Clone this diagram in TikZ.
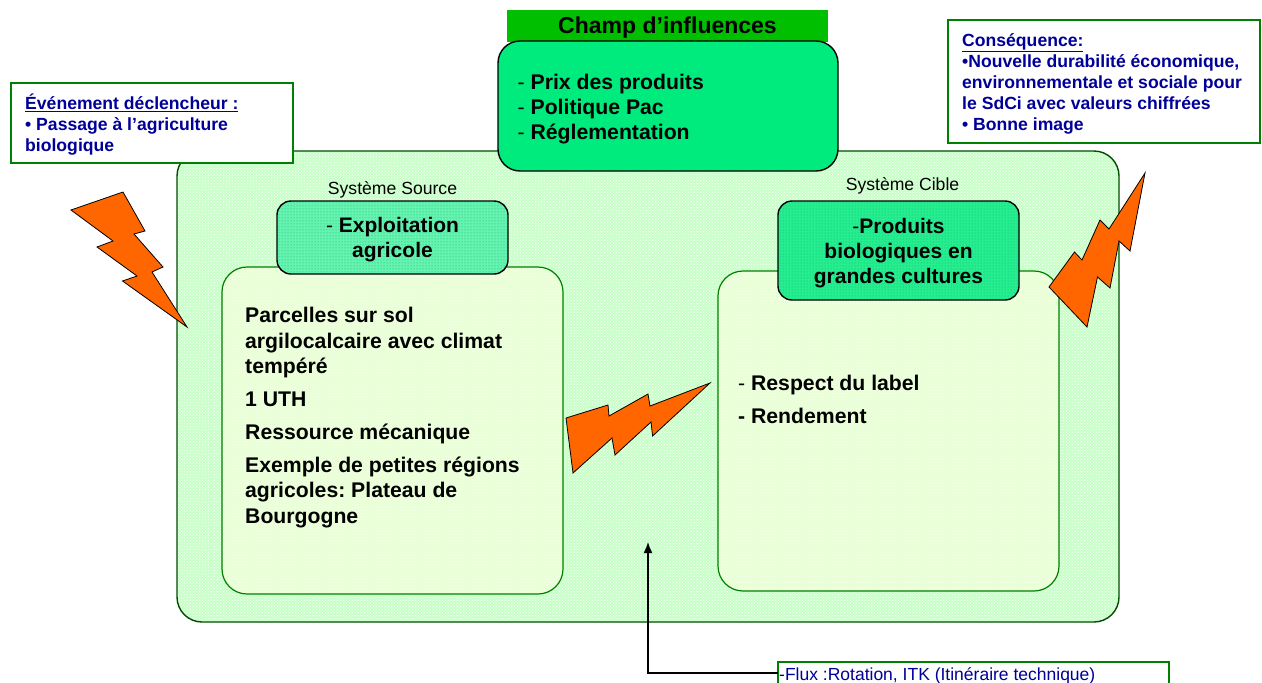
\documentclass[tikz,border=0pt]{standalone}
\usepackage{fontspec}
\setmainfont{Liberation Sans}
\usepackage{xcolor}
\usetikzlibrary{patterns,arrows.meta}
\frenchspacing
\definecolor{boxline}{RGB}{0,128,0}
\definecolor{textblue}{RGB}{0,0,153}
\definecolor{outerfill}{RGB}{200,255,200}
\definecolor{innerfill}{RGB}{233,255,214}
\definecolor{headfill}{RGB}{0,235,125}
\definecolor{titlefill}{RGB}{0,191,0}
\definecolor{boltfill}{RGB}{255,102,0}
\tikzset{
  panel/.style={draw, outer sep=0pt, inner sep=0pt},
  infobox/.style={panel, draw=boxline, line width=2.5pt, fill=white},
  outerpanel/.style={panel, draw=black!40!boxline, line width=1.4pt, rounded corners=25pt,
    preaction={fill=outerfill}, pattern=crosshatch dots, pattern color=white},
  innerpanel/.style={panel, draw=boxline, line width=1.2pt, rounded corners=25pt,
    preaction={fill=innerfill}, pattern=crosshatch dots, pattern color=white!60!innerfill},
  headpanel/.style={panel, rounded corners=14pt, line width=1.4pt,
    preaction={fill=headfill!60!white}, pattern=dots, pattern color=headfill!80!black},
  bolt/.style={draw, fill=boltfill, line width=0.8pt, line join=miter},
  headtext/.style={inner sep=0pt, align=center, font=\fontsize{21}{25}\selectfont\bfseries},
  bodytext/.style={inner sep=0pt, align=left, anchor=north west, font=\fontsize{21.2}{25.7}\selectfont\bfseries},
  bluetext/.style={inner sep=0pt, align=left, anchor=north west, text=textblue, font=\fontsize{17.6}{21}\selectfont\bfseries},
  smalltext/.style={inner sep=0pt, font=\fontsize{17.6}{21}\selectfont}
}
\begin{document}
\begin{tikzpicture}[x=1pt, y=-1pt]
  \useasboundingbox (0,0) rectangle (1262,683);
  % Panels
  \node[outerpanel, minimum width=942pt, minimum height=471pt] (outer) at (648, 386.5) {};
  \node[panel, draw=none, fill=titlefill, minimum width=321pt, minimum height=32pt] (title) at (667.5, 26) {};
  \node[inner sep=0pt, font=\fontsize{23}{25}\selectfont\bfseries] (titletext) at (667.5, 28) {Champ d’influences};
  \node[panel, line width=1.4pt, fill=headfill, rounded corners=22pt, minimum width=340pt, minimum height=130pt] (influence) at (668, 106) {};
  \node[innerpanel, minimum width=341pt, minimum height=327pt] (source) at (392.5, 430.5) {};
  \node[innerpanel, minimum width=341pt, minimum height=320pt] (target) at (888.5, 431) {};
  \node[headpanel, minimum width=231pt, minimum height=73pt] (sourcehead) at (392.5, 237.5) {};
  \node[headpanel, preaction={fill=headfill!85!white}, minimum width=241pt, minimum height=99pt] (targethead) at (898.5, 250.5) {};
  \node[infobox, minimum width=282pt, minimum height=80pt] (event) at (152, 123) {};
  \node[infobox, minimum width=312pt, minimum height=123pt] (result) at (1104, 81.5) {};
  \node[infobox, line width=1.5pt, minimum width=391pt, minimum height=40pt] (flux) at (973.5, 682) {};

  % Bolts
  \draw[bolt] (123,192) -- (145,231) -- (134,234) -- (163,267) -- (152,272) -- (187,327) -- (122.5,281)
    -- (137,276) -- (97,247) -- (113,241) -- (71,210) -- cycle;
  \draw[bolt] (1145,173) -- (1130,251) -- (1119,241) -- (1110,288) -- (1097.5,277) -- (1087,327) -- (1049,287)
    -- (1074.5,252) -- (1082,260) -- (1100,220) -- (1109,229) -- cycle;
  \draw[bolt] (710,383) -- (652.6,436) -- (651,422) -- (615,455) -- (612,438) -- (573,473) -- (566,418)
    -- (608,405) -- (609,416) -- (648,394) -- (650,406) -- cycle;

  % Texts
  \node[bodytext, font=\fontsize{21.2}{25}\selectfont\bfseries] (influencetext) at (517.5, 74) {{\mdseries -} Prix des produits\\{\mdseries -} Politique Pac\\{\mdseries -} Réglementation};
  \node[smalltext] (sourcename) at (392.5, 190) {Système Source};
  \node[smalltext] (targetname) at (902.5, 186) {Système Cible};
  \node[headtext] (sourceheadtext) at (392.5, 240) {{\mdseries -} Exploitation\\agricole};
  \node[headtext] (targetheadtext) at (898.5, 253.5) {{\mdseries -}Produits\\biologiques en\\grandes cultures};
  \node[bodytext] (sourcetext) at (245, 307) {Parcelles sur sol\\argilocalcaire avec climat\\tempéré\\[7pt]1 UTH\\[7pt]Ressource mécanique\\[7pt]Exemple de petites régions\\agricoles: Plateau de\\Bourgogne};
  \node[bodytext] (targettext) at (738, 375) {{\mdseries -} Respect du label\\[7pt]- Rendement};
  \node[bluetext] (eventtext) at (25, 94) {\underline{Événement déclencheur :}\\• Passage à l’agriculture\\biologique};
  \node[bluetext] (resulttext) at (962, 33) {\underline{Conséquence:}\\•Nouvelle durabilité économique,\\environnementale et sociale pour\\le SdCi avec valeurs chiffrées\\• Bonne image};
  \node[inner sep=0pt, anchor=west, text=textblue, font=\fontsize{17.5}{21}\selectfont] (fluxtext) at (779, 676) {-Flux :Rotation, ITK (Itinéraire technique)};

  % Edges
  \coordinate (fluxend) at (648, 542);
  \draw[-{Latex[length=11pt,width=9pt]}, line width=1.5pt] (flux.west |- 0,673) -| (fluxend);
\end{tikzpicture}
\end{document}
